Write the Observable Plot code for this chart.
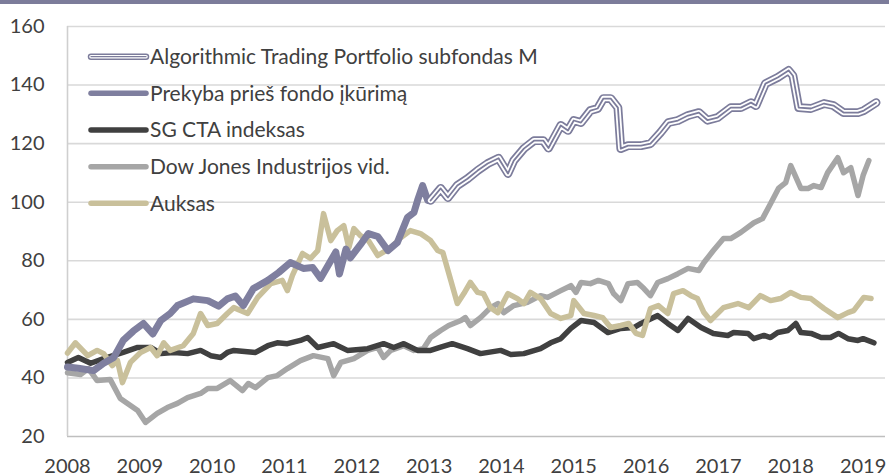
<!DOCTYPE html>
<html><head><meta charset="utf-8">
<script src="https://cdn.jsdelivr.net/npm/d3@7"></script>
<script src="https://cdn.jsdelivr.net/npm/@observablehq/plot@0.6"></script>
<style>
body{margin:0;background:#fff;}
#wrap{position:relative;width:889px;height:476px;overflow:hidden;}
#band{position:absolute;left:0;top:0;width:889px;height:4px;background:#7c7c9a;}
svg text{font-family:Lato, "Open Sans", sans-serif;}
</style></head><body>
<div id="wrap"><div id="chart"></div><div id="band"></div></div>
<script>
// ---- data ----
const seriesNames = ["Algorithmic Trading Portfolio subfondas M","Prekyba prieš fondo įkūrimą","SG CTA indeksas","Dow Jones Industrijos vid.","Auksas"];
const yearTicks = [2008,2009,2010,2011,2012,2013,2014,2015,2016,2017,2018,2019];
const valueTicks = [20,40,60,80,100,120,140,160];

const algoT = [2013.02,2013.16,2013.26,2013.39,2013.53,2013.67,2013.81,2013.96,2014.09,2014.17,2014.31,2014.45,2014.58,2014.65,2014.82,2014.92,2015.00,2015.10,2015.23,2015.33,2015.41,2015.51,2015.61,2015.65,2015.75,2015.93,2016.06,2016.20,2016.31,2016.44,2016.58,2016.73,2016.85,2016.99,2017.17,2017.31,2017.45,2017.52,2017.65,2017.82,2017.97,2018.03,2018.11,2018.28,2018.46,2018.59,2018.73,2018.93,2019.01,2019.18];
const algoV = [100.6,104.7,101.6,105.7,108,110.8,113.2,115,109.8,114.2,118.3,121,121,118.5,126.2,124.5,127.9,127.2,131.3,132,135.4,135.4,132.3,118.3,119.3,119.3,120,123.8,127.2,127.9,129.6,130.6,128,128.9,132.3,132.3,134,133,140.5,142.6,145,143.2,132.3,132,133.7,133,130.6,130.6,131.3,134];

const prekT = [2008.00,2008.15,2008.36,2008.50,2008.64,2008.77,2008.91,2009.05,2009.18,2009.29,2009.42,2009.52,2009.74,2009.94,2010.09,2010.21,2010.32,2010.43,2010.57,2010.77,2010.92,2011.08,2011.26,2011.39,2011.50,2011.64,2011.71,2011.76,2011.85,2011.91,2012.05,2012.16,2012.29,2012.43,2012.56,2012.70,2012.79,2012.84,2012.91,2012.98,2013.02];
const prekV = [43.7,43.3,42.5,45,47,52.8,56,58.6,55,59.6,62,64.7,67,66.4,64.5,67,68,64.7,70.5,73.3,76,79.4,77.4,77.7,74,80,83,75.5,84,81,85.5,89.3,88.3,83.5,86.2,94.8,96.5,100.6,105.7,100.6,100.6];

const sgT = [2008.00,2008.15,2008.32,2008.50,2008.77,2008.97,2009.15,2009.29,2009.47,2009.66,2009.84,2009.98,2010.12,2010.21,2010.30,2010.60,2010.77,2010.90,2011.04,2011.22,2011.32,2011.46,2011.68,2011.87,2012.15,2012.37,2012.51,2012.65,2012.84,2013.02,2013.16,2013.32,2013.53,2013.71,2013.99,2014.13,2014.31,2014.54,2014.68,2014.82,2014.96,2015.10,2015.28,2015.47,2015.65,2015.83,2015.93,2016.16,2016.30,2016.44,2016.58,2016.76,2016.93,2017.13,2017.21,2017.41,2017.49,2017.63,2017.72,2017.82,2017.96,2018.07,2018.14,2018.28,2018.42,2018.55,2018.66,2018.79,2018.93,2019.00,2019.15];
const sgV = [45.3,47,45,46.6,48.7,50.4,50.4,48.3,48.7,48.3,49.4,47.6,47,48.7,49.4,48.7,51,52,51.7,52.8,53.8,50.4,51.7,49.4,50,51.7,50.4,51.7,49.4,49.4,50.5,51.7,50,48.3,49.4,48,48.3,50,52,53.4,56.9,59.6,58.9,55.5,56.9,57.2,58.6,61.3,58.6,56.2,60.3,57.2,55.2,54.5,55.5,55.2,53.4,54.5,53.8,55.5,56.2,58.6,55.5,55.2,53.8,53.8,55.2,53.4,52.8,53.4,52];

const dowT = [2008.00,2008.18,2008.29,2008.41,2008.59,2008.73,2008.87,2008.97,2009.08,2009.24,2009.38,2009.52,2009.66,2009.84,2009.94,2010.07,2010.25,2010.42,2010.50,2010.60,2010.77,2010.90,2011.04,2011.22,2011.40,2011.60,2011.68,2011.78,2011.96,2012.15,2012.29,2012.37,2012.47,2012.65,2012.79,2012.92,2013.02,2013.16,2013.27,2013.44,2013.50,2013.57,2013.71,2013.85,2013.95,2014.03,2014.17,2014.36,2014.54,2014.64,2014.82,2014.96,2015.03,2015.10,2015.23,2015.34,2015.48,2015.55,2015.65,2015.75,2015.88,2015.97,2016.06,2016.16,2016.30,2016.44,2016.58,2016.73,2016.80,2016.93,2017.07,2017.17,2017.31,2017.49,2017.61,2017.72,2017.83,2017.93,2018.00,2018.14,2018.24,2018.32,2018.42,2018.51,2018.65,2018.73,2018.83,2018.93,2019.00,2019.08];
const dowV = [41.8,41.2,43.2,39.1,39.5,33,30.6,28.9,24.8,27.9,29.9,31.3,33.3,34.7,36.4,36.4,39.1,35.7,38.1,36.7,40.1,40.8,43.2,45.9,47.6,46.6,40.8,45.3,46.6,49.4,50.4,47,49.4,51,49.4,50,53.8,56.2,57.9,59.6,60.6,57.9,60.6,64,65.4,62.3,64.7,65.8,68.1,67.5,69.8,71.5,69.2,72.6,72.2,73.3,72.2,68.8,66.4,72.2,72.6,70.5,68.1,72.6,73.9,75.6,77.4,76.7,79.4,83.5,87.6,87.6,89.7,93,94.4,99.5,104.7,106.7,112.5,104.7,104.7,105.7,105,110.1,115.2,110.1,111.8,102.3,109.1,114.2];

const goldT = [2008.00,2008.11,2008.28,2008.41,2008.50,2008.62,2008.69,2008.76,2008.87,2009.01,2009.15,2009.24,2009.33,2009.42,2009.60,2009.74,2009.84,2009.94,2010.07,2010.21,2010.30,2010.49,2010.63,2010.81,2010.97,2011.04,2011.11,2011.25,2011.36,2011.46,2011.54,2011.64,2011.73,2011.82,2011.89,2011.96,2012.05,2012.16,2012.29,2012.47,2012.61,2012.74,2012.88,2013.02,2013.12,2013.19,2013.30,2013.39,2013.48,2013.57,2013.67,2013.75,2013.85,2013.95,2014.09,2014.22,2014.31,2014.40,2014.54,2014.68,2014.82,2014.96,2015.00,2015.14,2015.28,2015.40,2015.51,2015.65,2015.76,2015.86,2015.95,2016.06,2016.17,2016.30,2016.38,2016.51,2016.62,2016.71,2016.80,2016.89,2017.07,2017.27,2017.42,2017.58,2017.72,2017.86,2018.00,2018.14,2018.28,2018.46,2018.65,2018.79,2018.87,2019.01,2019.11];
const goldV = [48.5,52,47.6,49.4,48.3,44.2,46,38.4,45.3,48.7,50.4,47.6,52,49.4,51,55.2,62,57.9,58.6,62,64,62,67.5,72.2,73.3,69.8,75,82.5,80.8,83.5,96.1,86.9,90.3,92,84.5,91,88.6,86.9,81.8,84.5,87.9,90.3,89.3,86.9,83.5,82.8,73.3,65.4,68.8,72.6,69.2,68.8,64,62.3,68.8,67.1,65.4,69.2,67.1,62,60.3,61.3,66.4,62,61.3,60.6,57.2,57.9,58.6,55.2,54.5,63.7,64.7,62,68.8,69.8,68.1,67.1,62.3,59.6,64,65.4,64,68.1,66.4,67.1,69.2,67.5,67.1,63.7,60.6,62.3,63,67.5,67.1];

const colors = {algo:"#7c7c9b", prek:"#7f7f9f", sg:"#404040", dow:"#a6a6a6", gold:"#c9c09b"};

const toRows = (T,V) => T.map((t,i)=>({t, v:V[i]}));
const algo = toRows(algoT, algoV), prek = toRows(prekT, prekV), sg = toRows(sgT, sgV), dow = toRows(dowT, dowV), gold = toRows(goldT, goldV);

const lineOpts = {x:"t", y:"v", strokeLinejoin:"round", strokeLinecap:"round"};

const chart = Plot.plot({
  width: 889, height: 476,
  marginLeft: 67, marginRight: 4, marginTop: 26, marginBottom: 40,
  style: {fontFamily: "Lato, sans-serif", fontSize: "20px", color: "#404040", background: "#fff"},
  x: {type: "linear", domain: [2008, 2019.31]},
  y: {domain: [20, 160]},
  marks: [
    Plot.ruleY(valueTicks.filter(d=>d>20), {stroke:"#d9d9d9", strokeWidth:1.6}),
    Plot.ruleY([20], {stroke:"#bfbfbf", strokeWidth:1.6}),
    Plot.ruleX([2008], {y1:20, y2:160, stroke:"#cfcfcf", strokeWidth:1.6}),
    Plot.line(dow, {...lineOpts, stroke: colors.dow, strokeWidth: 5.5}),
    Plot.line(sg, {...lineOpts, stroke: colors.sg, strokeWidth: 5.5}),
    Plot.line(gold, {...lineOpts, stroke: colors.gold, strokeWidth: 5.5}),
    Plot.line(prek, {...lineOpts, stroke: colors.prek, strokeWidth: 7}),
    Plot.line(algo, {...lineOpts, stroke: colors.algo, strokeWidth: 8.8}),
    Plot.line(algo, {...lineOpts, stroke: "#fff", strokeWidth: 5.4}),
    Plot.line(algo, {...lineOpts, stroke: colors.algo, strokeWidth: 1.8}),
    Plot.axisX({ticks: yearTicks, tickFormat: d => String(d), tickSize: 0, tickPadding: 22, fontSize: 20, label: null}),
    Plot.axisY({ticks: valueTicks, tickSize: 0, tickPadding: 23, fontSize: 20, label: null})
  ]
});
document.getElementById("chart").appendChild(chart);

// legend (inside plot, top-left)
const svg = d3.select(chart);
const leg = svg.append("g").attr("text-anchor", "start");
const legendRows = [
  {name: seriesNames[0], key: "algo"},
  {name: seriesNames[1], key: "prek"},
  {name: seriesNames[2], key: "sg"},
  {name: seriesNames[3], key: "dow"},
  {name: seriesNames[4], key: "gold"}
];
legendRows.forEach((r, i) => {
  const y = 56.7 + i * 36.65;
  const g = leg.append("g");
  const seg = (stroke, w) => g.append("line").attr("x1", 91).attr("x2", 146).attr("y1", y).attr("y2", y)
      .attr("stroke", stroke).attr("stroke-width", w).attr("stroke-linecap", "round");
  if (r.key === "algo") { seg(colors.algo, 6.5); seg("#fff", 3.6); seg(colors.algo, 1.2); }
  else seg(colors[r.key], 5.5);
  g.append("text").attr("x", 150).attr("y", y).attr("dy", "0.35em").attr("text-anchor", "start")
    .attr("fill", "#404040").attr("font-size", 21).text(r.name);
});
</script>
</body></html>
